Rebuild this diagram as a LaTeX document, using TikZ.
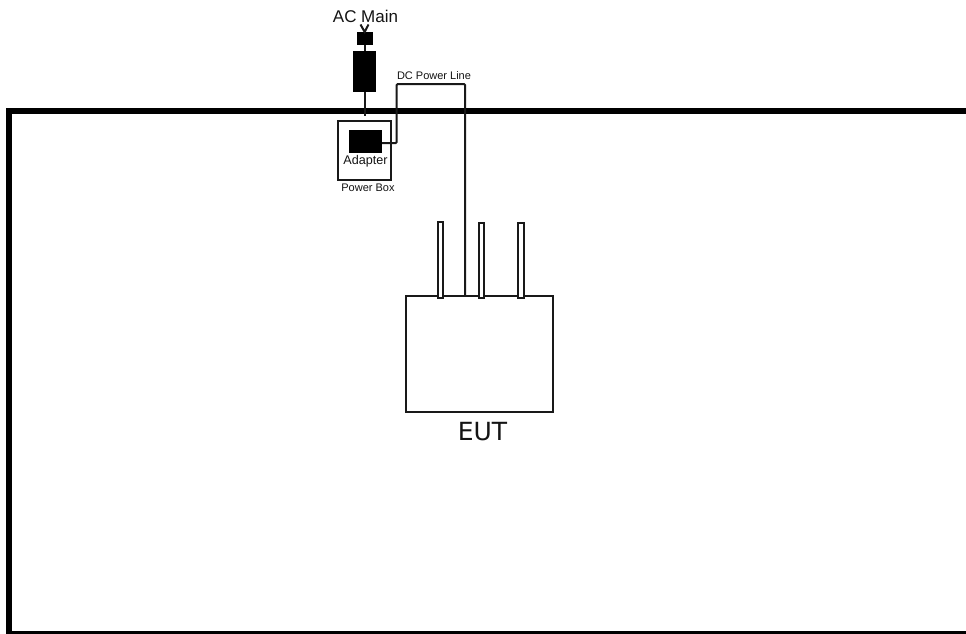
\documentclass[tikz,border=0pt]{standalone}
\usepackage{fontspec}
\setmainfont{Liberation Sans}
\newfontfamily\eutfont{DejaVu Sans}
\tikzset{
  x=1pt,y=-1pt,
  wire/.style={draw=black!90,line width=2pt},
  solid box/.style={draw=none,fill=black,inner sep=0pt,outer sep=0pt},
  open box/.style={draw=black!90,fill=white,inner sep=0pt,outer sep=0pt,line width=2pt},
  lbl/.style={inner sep=0pt,text=black!92}
}
\newcommand{\boxat}[6]{\node[#1,minimum width={(#5-#3)*1pt},minimum height={(#6-#4)*1pt},anchor=north west] (#2) at (#3,#4) {};}
\begin{document}
\begin{tikzpicture}
\path[use as bounding box] (0,0) rectangle (966,634);
\begin{scope}
\clip (0,0) rectangle (966,634);
\fill[white] (0,0) rectangle (966,634);
% room
\draw[line width=6.4pt,black,line join=miter] (966,111) -- (9,111) -- (9,634.5) -- (966,634.5);
\end{scope}
% power box + adapter
\boxat{open box}{pbox}{338}{121}{391}{180}
\boxat{solid box}{adapter}{348.5}{129.5}{382}{152.5}
% mains chain
\boxat{solid box}{plug}{357}{32}{372.5}{45.5}
\boxat{solid box}{body}{353}{51}{376}{92}
\coordinate (pin) at (364.7,32);
\coordinate (pinL) at (360.5,24.5);
\coordinate (pinR) at (368.5,24.5);
\coordinate (entry) at (364.7,116);
\draw[wire] (pinL) -- (pin) -- (pinR);
\draw[wire] (plug.south -| pin) -- (body.north -| pin);
\draw[wire] (body.south -| pin) -- (entry);
% EUT + antennas
\boxat{open box}{eut}{405.5}{296}{552.5}{411.5}
\boxat{open box}{ant1}{437.5}{222}{443}{297.5}
\boxat{open box}{ant2}{478.5}{222.5}{484}{298}
\boxat{open box}{ant3}{517.5}{222.5}{523.5}{298}
% DC line
\coordinate (c1) at (396.7,84);
\coordinate (c2) at (465,84);
\draw[wire,rounded corners=1pt] (adapter.east |- 0,143) -- (c1 |- 0,143) -- (c1) -- (c2) -- (c2 |- eut.north);
% labels
\node[lbl,font=\fontsize{17}{19}\selectfont] (acl) at (365.5,16) {AC Main};
\node[lbl,font=\fontsize{12.6}{14}\selectfont] (adl) at (365.5,161.5) {Adapter};
\node[lbl,font=\fontsize{11}{13}\selectfont] (dcl) at (434,75.5) {DC Power Line};
\node[lbl,font=\fontsize{11}{13}\selectfont] (pbl) at (368,188) {Power Box};
\node[lbl,font=\fontsize{25}{28}\eutfont] (eutl) at (482.5,431.5) {EUT};
\end{tikzpicture}
\end{document}
